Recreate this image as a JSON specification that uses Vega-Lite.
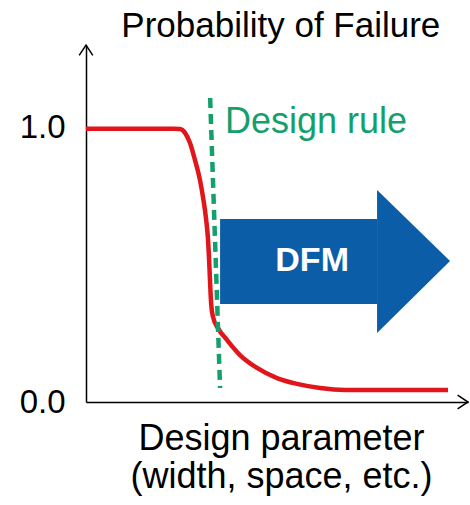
{
  "$schema": "https://vega.github.io/schema/vega-lite/v6.json",
  "autosize": {"type": "none"},
  "padding": {"left": 86, "top": 45, "right": 2, "bottom": 103},
  "width": 382,
  "height": 357,
  "background": "white",
  "config": {
    "view": {"stroke": null},
    "font": "Liberation Sans",
    "text": {"font": "Liberation Sans"}
  },
  "datasets": {
    "curve": [
      {"x": 0, "y": 0.995},
      {"x": 2.3, "y": 0.995},
      {"x": 2.461, "y": 0.994},
      {"x": 2.592, "y": 0.98},
      {"x": 2.723, "y": 0.943},
      {"x": 2.853, "y": 0.881},
      {"x": 2.984, "y": 0.808},
      {"x": 3.07, "y": 0.74},
      {"x": 3.14, "y": 0.67},
      {"x": 3.19, "y": 0.6},
      {"x": 3.225, "y": 0.51},
      {"x": 3.25, "y": 0.43},
      {"x": 3.275, "y": 0.36},
      {"x": 3.325, "y": 0.31},
      {"x": 3.455, "y": 0.269},
      {"x": 3.691, "y": 0.226},
      {"x": 4.031, "y": 0.171},
      {"x": 4.476, "y": 0.124},
      {"x": 5.0, "y": 0.087},
      {"x": 5.524, "y": 0.066},
      {"x": 6.126, "y": 0.051},
      {"x": 6.78, "y": 0.044},
      {"x": 9.476, "y": 0.044}
    ],
    "rule": [{"x": 3.25, "y": 1.107, "x2": 3.51, "y2": 0.051}],
    "body": [{"x": 3.51, "x2": 7.62, "y": 0.357, "y2": 0.666}],
    "head": [
      {"x": 7.62, "y": 0.251, "y2": 0.772},
      {"x": 9.53, "y": 0.513, "y2": 0.513}
    ],
    "dfm": [{"x": 5.92, "y": 0.513, "label": "DFM"}],
    "rulelabel": [{"x": 3.64, "y": 0.98, "label": "Design rule"}],
    "title": [{"x": 5.1, "y": 1.329, "label": "Probability of Failure"}],
    "tips": [
      {"x": 10, "y": 0, "axis": "x"},
      {"x": 0, "y": 1.3, "axis": "y"}
    ]
  },
  "encoding": {
    "x": {
      "field": "x",
      "type": "quantitative",
      "scale": {"domain": [0, 10], "nice": false, "zero": false},
      "axis": {
        "title": ["Design parameter", "(width, space, etc.)"],
        "titleFontSize": 36,
        "titleFontWeight": "normal",
        "titleColor": "#000000",
        "titleFont": "Liberation Sans",
        "titleLineHeight": 38,
        "titlePadding": 19,
        "titleX": 195,
        "labels": false,
        "ticks": false,
        "grid": false,
        "domainColor": "#000000",
        "domainWidth": 1.5
      }
    },
    "y": {
      "field": "y",
      "type": "quantitative",
      "scale": {"domain": [0, 1.3], "nice": false, "zero": false},
      "axis": {
        "title": null,
        "values": [0, 1],
        "format": ".1f",
        "labelFontSize": 33,
        "labelColor": "#000000",
        "labelFont": "Liberation Sans",
        "labelPadding": 21,
        "ticks": false,
        "grid": false,
        "domainColor": "#000000",
        "domainWidth": 1.5,
        "encode": {"labels": {"update": {"dx": {"signal": "datum.value === 0 ? 4 : -6"}}}}
      }
    }
  },
  "layer": [
    {
      "data": {"name": "body"},
      "mark": {"type": "rect", "color": "#0c5da7"},
      "encoding": {"x2": {"field": "x2"}, "y2": {"field": "y2"}}
    },
    {
      "data": {"name": "head"},
      "mark": {"type": "area", "color": "#0c5da7", "orient": "vertical"},
      "encoding": {"y2": {"field": "y2"}}
    },
    {
      "data": {"name": "curve"},
      "mark": {"type": "line", "color": "#e0161b", "strokeWidth": 4.5, "interpolate": "monotone", "strokeCap": "butt"},
      "encoding": {}
    },
    {
      "data": {"name": "rule"},
      "mark": {"type": "rule", "color": "#14a06b", "strokeWidth": 4.5, "strokeDash": [10, 6]},
      "encoding": {"x2": {"field": "x2"}, "y2": {"field": "y2"}}
    },
    {
      "data": {"name": "dfm"},
      "mark": {"type": "text", "color": "#ffffff", "fontSize": 34, "fontWeight": "bold", "align": "center", "baseline": "middle", "font": "Liberation Sans"},
      "encoding": {"text": {"field": "label"}}
    },
    {
      "data": {"name": "rulelabel"},
      "mark": {"type": "text", "color": "#14a06b", "fontSize": 36, "align": "left", "baseline": "alphabetic", "font": "Liberation Sans"},
      "encoding": {"text": {"field": "label"}}
    },
    {
      "data": {"name": "title"},
      "mark": {"type": "text", "color": "#000000", "fontSize": 35, "align": "center", "baseline": "alphabetic", "font": "Liberation Sans", "clip": false},
      "encoding": {"text": {"field": "label"}}
    },
    {
      "data": {"name": "tips"},
      "mark": {"type": "point", "filled": false, "color": "#000000", "strokeWidth": 1.5, "size": 64, "opacity": 1, "clip": false},
      "encoding": {
        "shape": {
          "field": "axis",
          "type": "nominal",
          "scale": {"domain": ["x", "y"], "range": ["M-2.6,-1.7L0,0L-2.6,1.7", "M-1.7,2.6L0,0L1.7,2.6"]},
          "legend": null
        }
      }
    }
  ]
}
